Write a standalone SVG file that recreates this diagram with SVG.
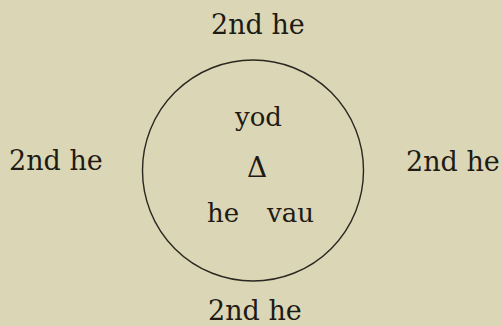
<svg xmlns="http://www.w3.org/2000/svg" width="502" height="326" viewBox="0 0 502 326">
<style>
.t{font-family:"DejaVu Serif","Liberation Serif",serif;font-size:26px;fill:#1e1a14}
.lab{font-size:27px}
</style>
<rect width="502" height="326" fill="#dbd6b6"/>
<g id="circle">
<circle cx="253" cy="170.5" r="110.5" fill="none" stroke="#2a2620" stroke-width="1.4"/>
</g>
<g id="connectors"></g>
<g id="top"><text class="t lab" x="211" y="34">2nd he</text></g>
<g id="left"><text class="t lab" x="9" y="170">2nd he</text></g>
<g id="right"><text class="t lab" x="406" y="171">2nd he</text></g>
<g id="bottom"><text class="t lab" x="208" y="320">2nd he</text></g>
<g id="center">
<text class="t" x="258.5" y="126" text-anchor="middle">yod</text>
<text class="t" x="257" y="177" text-anchor="middle" style="font-size:28px">Δ</text>
<text class="t" x="207" y="222">he</text>
<text class="t" x="267" y="222">vau</text>
</g>
</svg>
